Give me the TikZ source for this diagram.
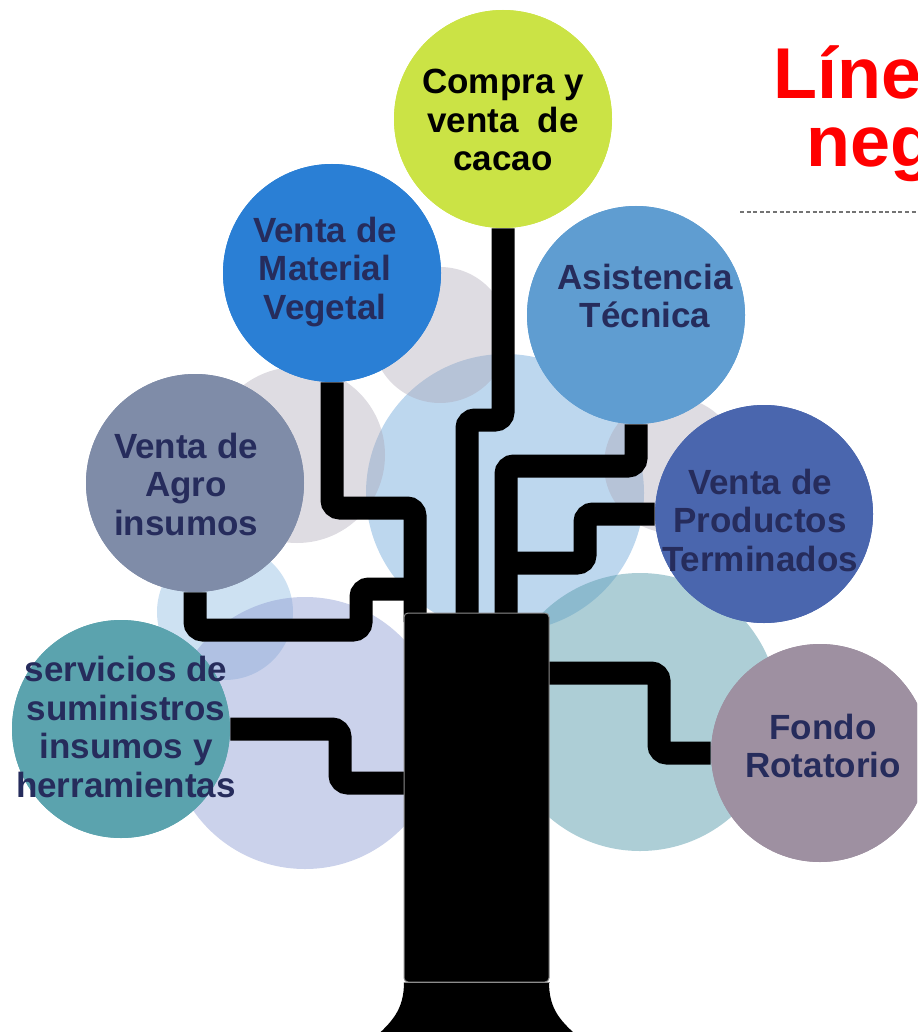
\documentclass[tikz,border=0pt]{standalone}
\usepackage{fontspec}
\setmainfont{Liberation Sans}
\definecolor{cLime}{HTML}{CBE345}
\definecolor{cBlue}{HTML}{2A7FD5}
\definecolor{cSky}{HTML}{5F9DD1}
\definecolor{cIndigo}{HTML}{4A66AE}
\definecolor{cSlate}{HTML}{7F8CA8}
\definecolor{cTeal}{HTML}{5BA3AE}
\definecolor{cMauve}{HTML}{9E90A1}
\definecolor{cNavy}{HTML}{262C5C}
\definecolor{bgBlue}{HTML}{5B9BD5}
\definecolor{bgGray}{HTML}{A9A3B3}
\definecolor{bgLav}{HTML}{8C9BD2}
\definecolor{bgTeal}{HTML}{5B9EAE}
\begin{document}
\begin{tikzpicture}[x=0.5pt,y=-0.5pt,
  fgcirc/.style={circle,inner sep=0pt,minimum size=109pt,draw=none},
  bgcirc/.style={fill opacity=#1,draw=none},
  stemline/.style={draw=black,line width=11.5pt,rounded corners=4pt,line cap=butt},
  lbl/.style={align=center,text=cNavy,font=\bfseries\fontsize{17.5}{19.25}\selectfont,inner sep=0pt}]
\useasboundingbox (0,0) rectangle (917,1032);
\begin{scope}
\clip (0,0) rectangle (917,1032);
% background circles
\fill[bgBlue,bgcirc=.4] (505,493) circle[radius=139];
\fill[bgGray,bgcirc=.38] (440,335) circle[radius=68];
\fill[bgGray,bgcirc=.38] (297,455) circle[radius=88];
\fill[bgGray,bgcirc=.38] (672,465) circle[radius=68];
\fill[bgBlue,bgcirc=.3] (225,612) circle[radius=68];
\fill[bgLav,bgcirc=.45] (305,733) circle[radius=136];
\fill[bgTeal,bgcirc=.5] (640,712) circle[radius=139];
% foreground circles
\node[fgcirc,fill=cLime] (compra) at (503,119) {};
\node[fgcirc,fill=cBlue] (material) at (332,273) {};
\node[fgcirc,fill=cSky] (asist) at (636,315) {};
\node[fgcirc,fill=cIndigo] (prod) at (764,514) {};
\node[fgcirc,fill=cSlate] (agro) at (195,483) {};
\node[fgcirc,fill=cTeal] (serv) at (121,729) {};
\node[fgcirc,fill=cMauve] (fondo) at (820,753) {};
% trunk
\coordinate (j1) at (467,622);
\coordinate (j2) at (415,622);
\coordinate (j3) at (506,622);
\coordinate (j4) at (506,563);
\coordinate (j5) at (415,589);
\coordinate (j6) at (412,783);
\coordinate (j7) at (540,673);
% stems
\draw[stemline] (compra.south) -- (503,420) -- (467,420) -- (j1);
\draw[stemline] (material.south) -- (332,508) -- (415,508) -- (j2);
\draw[stemline] (asist.south) -- (636,466) -- (506,466) -- (j3);
\draw[stemline] (prod.west) -- (585,514) -- (585,563) -- (j4);
\draw[stemline] (agro.south) -- (195,630) -- (361,630) -- (361,589) -- (j5);
\draw[stemline] (serv.east) -- (340,729) -- (340,783) -- (j6);
\draw[stemline] (j7) -- (659,673) -- (659,753) -- (fondo.west);
% redraw circle tops over stem ends
\node[fgcirc,fill=cLime] at (compra) {};
\node[fgcirc,fill=cBlue] at (material) {};
\node[fgcirc,fill=cSky] at (asist) {};
\node[fgcirc,fill=cIndigo] at (prod) {};
\node[fgcirc,fill=cSlate] at (agro) {};
\node[fgcirc,fill=cMauve] at (fondo) {};
\node[fgcirc,fill=cTeal] at (serv) {};
\node[draw=black!45,line width=0.5pt,fill=black,rounded corners=2pt,minimum width=72.5pt,minimum height=184.5pt,inner sep=0pt] (trunk) at (476.5,797.5) {};
\fill[black] (404,982) .. controls (404,1010) and (392,1022) .. (372,1040) -- (582,1040) .. controls (561,1022) and (549,1010) .. (549,982) -- cycle;
\draw[black!45,line width=0.6pt] (trunk.south west) -- (trunk.south east);
% labels
\node[lbl,text=black] (tCompra) at (503,120) {Compra y\\venta\ \ de\\cacao};
\node[lbl] (tMat) at (325,272) {Venta de\\Material\\Vegetal};
\node[lbl] (tAsist) at (645,296) {Asistencia\\Técnica};
\node[lbl] (tProd) at (760,520) {Venta de\\Productos\\Terminados};
\node[lbl] (tAgro) at (186,484) {Venta de\\Agro\\insumos};
\node[lbl] (tServ) at (126,727) {servicios de\\suministros\\insumos y\\herramientas};
\node[lbl] (tFondo) at (823,746) {Fondo\\Rotatorio};
% title
\node[anchor=base west,inner sep=0pt,text=red,font=\bfseries\fontsize{36}{40}\selectfont] (title1) at (773,99) {Líne};
\node[anchor=base west,inner sep=0pt,text=red,font=\bfseries\fontsize{36}{40}\selectfont] (title2) at (806,167) {neg};
\coordinate (d1) at (740,212);
\coordinate (d2) at (917,212);
\draw[black!55,line width=0.6pt,dash pattern=on 2pt off 1.3pt] (d1) -- (d2);
\end{scope}
\end{tikzpicture}
\end{document}
